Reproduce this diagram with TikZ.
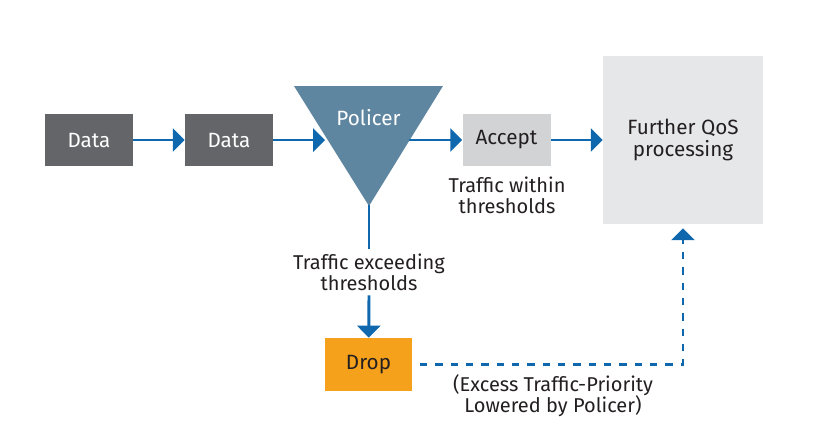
\documentclass[tikz,border=0pt]{standalone}
\usepackage{fontspec}
\setmainfont{Fira Sans}
\usetikzlibrary{arrows}
\definecolor{datagray}{HTML}{646569}
\definecolor{acceptgray}{HTML}{D1D3D4}
\definecolor{qosgray}{HTML}{E6E7E8}
\definecolor{flowblue}{HTML}{0F67AD}
\definecolor{policerblue}{HTML}{5F86A0}
\definecolor{droporange}{HTML}{F5A11C}
\definecolor{textdark}{HTML}{231F20}

\begin{document}
\begin{tikzpicture}[x=0.75pt,y=-0.75pt,
        flow/.style={draw=flowblue,line width=2.2pt,-triangle 90},
        box/.style={inner sep=0pt,minimum width=66pt,minimum height=39pt,font=\fontsize{15.5}{16.5}\selectfont},
        lbl/.style={align=center,text=textdark,font=\fontsize{15}{16}\selectfont}]
        \useasboundingbox (0,0) rectangle (821,430);
        % boxes
        \node[box,fill=datagray,text=white] (data1) at (89,140) {Data};
        \node[box,fill=datagray,text=white] (data2) at (229,140) {Data};
        \node[box,fill=acceptgray,text=textdark] (accept) at (506.5,140) {Accept};
        \node[box,fill=qosgray,text=textdark,minimum width=120pt,minimum height=126pt,align=center] (qos) at (683,140) {Further QoS\\processing};
        \node[box,fill=droporange,text=textdark,minimum width=65pt,minimum height=40pt] (drop) at (368.5,364.5) {Drop};
        % policer
        \fill[policerblue] (294,86) -- (443,86) -- (369,206) -- cycle;
        \node[text=white,font=\fontsize{15.5}{16.5}\selectfont] (policer) at (368.5,118) {Policer};
        \coordinate (polin) at (325,140);
        \coordinate (polout) at (409,140);
        \coordinate (apex) at (369,205);
        % labels
        \node[lbl] (within) at (507,195) {Traffic within\\thresholds};
        \node[lbl] (exceed) at (369,272) {Traffic exceeding\\thresholds};
        \node[lbl] (excess) at (553,396) {(Excess Traffic-Priority\\Lowered by Policer)};
        % arrows
        \draw[flow] (data1) -- (data2);
        \draw[flow] (data2) -- (polin);
        \draw[flow] (polout) -- (accept);
        \draw[flow] (accept) -- (qos);
        \draw[draw=flowblue,line width=2.2pt] (apex) -- (exceed.north);
        \draw[flow] (exceed.south) -- (drop);
        \coordinate (corner) at (683,364.5);
        \draw[flow,dash pattern=on 5.5pt off 6pt] ([xshift=6pt]drop.east) -- (corner) -- ([yshift=-3pt]qos.south);
\end{tikzpicture}
\end{document}
